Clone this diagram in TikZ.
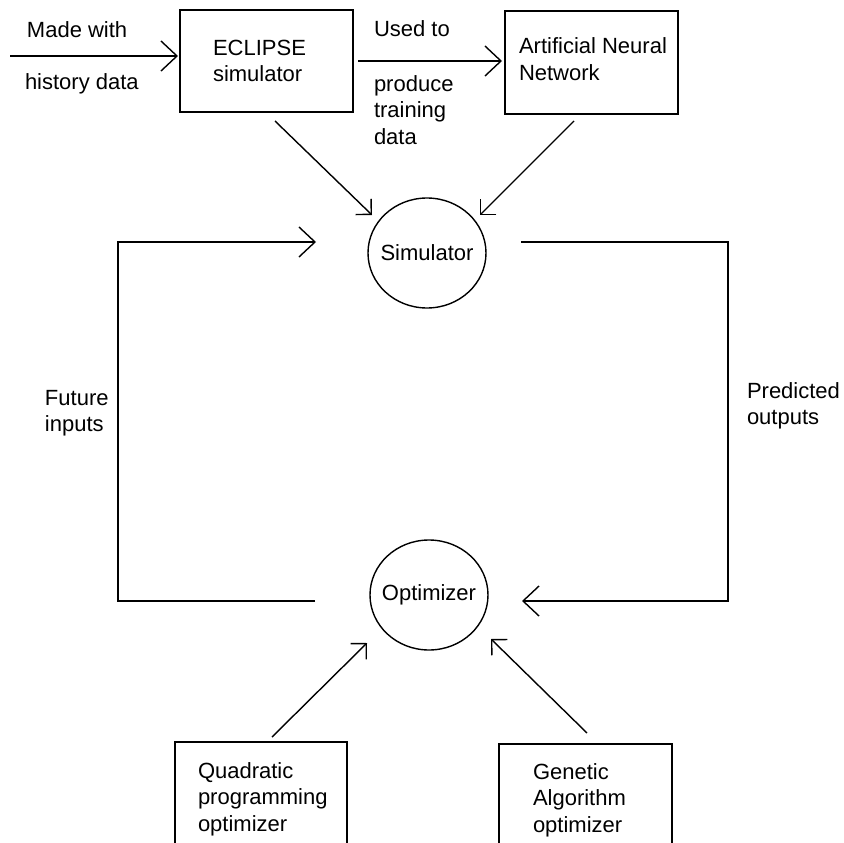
\documentclass[tikz,border=0pt]{standalone}
\usepackage{fontspec}
\setmainfont{Liberation Sans}
\usetikzlibrary{arrows.meta,shapes.geometric,calc}
\begin{document}
\begin{tikzpicture}[x=1pt,y=-1pt,
  line width=1.4pt,
  every node/.style={inner sep=0pt,outer sep=0pt},
  txt/.style={font=\fontsize{22}{26.5}\selectfont,align=left,anchor=base west},
  box/.style={draw,rectangle,anchor=north west},
  proc/.style={draw,ellipse,inner sep=-10pt,minimum width=118pt,minimum height=110pt,
               font=\fontsize{22}{26.5}\selectfont},
  harrow/.style={-{Straight Barb[length=16pt,width=30pt]}},
  darrow/.style={-{Straight Barb[length=11pt,width=22pt]}}]
\useasboundingbox (0,0) rectangle (844,843);
\clip (0,0) rectangle (844,843);

% boxes
\node[box,minimum width=173pt,minimum height=102pt] (ecl) at (180,10) {};
\node[box,minimum width=173pt,minimum height=103pt] (ann) at (505,11) {};
\node[box,minimum width=172pt,minimum height=140pt] (qp)  at (175,742) {};
\node[box,minimum width=173pt,minimum height=140pt] (ga)  at (499,744) {};

% box texts (base anchor sits on the last line)
\node[txt] (eclt) at (213,81.5) {ECLIPSE\\simulator};
\node[txt] (annt) at (519,80.5) {Artificial Neural\\Network};
\node[txt] (qpt)  at (198,831)  {Quadratic\\programming\\optimizer};
\node[txt] (gat)  at (533,832)  {Genetic\\Algorithm\\optimizer};

% process circles
\node[proc] (sim) at (427,253) {Simulator};
\node[proc] (opt) at (429,595) {Optimizer};

% free labels
\node[txt] (l1) at (27,38)   {Made with};
\node[txt] (l2) at (25,89)   {history data};
\node[txt] (l3) at (374,37)  {Used to};
\node[txt] (l4) at (374,144) {produce\\training\\data};
\node[txt] (l5) at (45,431.5) {Future\\inputs};
\node[txt] (l6) at (747,424.5) {Predicted\\outputs};

% connector end points
\coordinate (hin)  at (10,56);
\coordinate (fl1)  at (118,601);
\coordinate (fl2)  at (118,242);
\coordinate (fr1)  at (728,242);
\coordinate (fr2)  at (728,601);

% top row
\draw[harrow] (hin) -- ($(ecl.west |- hin)+(-2,0)$);
\draw[harrow] ($(ecl.east)+(5,0)$) -- ($(ann.west |- ecl.east)+(-3,0)$);

% into the simulator
\draw[darrow] ($(ecl.south)+(8.5,9)$) -- ($(sim.center)+(-55,-38)$);
\draw[darrow] ($(ann.south)+(-17.5,7)$) -- ($(sim.center)+(53,-38)$);

% feedback loop
\draw[harrow] ($(opt.west)+(-55,6)$) -- (fl1) -- (fl2) -- ($(sim.west)+(-52,-11)$);
\draw[harrow] ($(sim.east)+(35,-11)$) -- (fr1) -- (fr2) -- ($(opt.east)+(34,6)$);

% into the optimizer
\draw[darrow] ($(qp.north)+(11,-5)$) -- ($(opt.center)+(-62,48)$);
\draw[darrow] ($(ga.north)+(1.5,-11)$) -- ($(opt.center)+(62,44)$);
\end{tikzpicture}
\end{document}
